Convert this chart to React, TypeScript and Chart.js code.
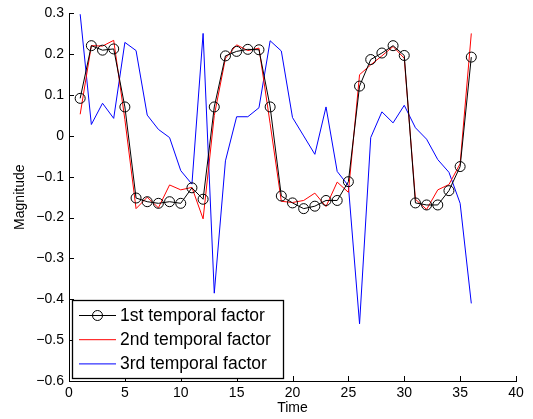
import React, { useEffect, useRef } from "react";
import { Chart, registerables } from "chart.js";

Chart.register(...registerables);

const timeSteps = [1, 2, 3, 4, 5, 6, 7, 8, 9, 10, 11, 12, 13, 14, 15, 16, 17, 18, 19, 20, 21, 22, 23, 24, 25, 26, 27, 28, 29, 30, 31, 32, 33, 34, 35, 36];

const factor1 = [0.092, 0.221, 0.210, 0.213, 0.071, -0.152, -0.161, -0.165, -0.161, -0.165, -0.127, -0.155, 0.071, 0.196, 0.207, 0.212, 0.211, 0.071, -0.147, -0.164, -0.178, -0.172, -0.158, -0.158, -0.112, 0.122, 0.187, 0.203, 0.221, 0.197, -0.164, -0.169, -0.169, -0.134, -0.075, 0.193];

const factor2 = [0.053, 0.221, 0.220, 0.234, 0.04, -0.178, -0.150, -0.176, -0.120, -0.132, -0.126, -0.203, 0.05, 0.190, 0.223, 0.209, 0.215, 0.03, -0.160, -0.163, -0.158, -0.140, -0.173, -0.113, -0.138, 0.150, 0.174, 0.196, 0.219, 0.190, -0.155, -0.180, -0.132, -0.119, -0.068, 0.251];

const factor3 = [0.298, 0.028, 0.080, 0.043, 0.229, 0.209, 0.051, 0.016, -0.004, -0.085, -0.118, 0.251, -0.385, -0.061, 0.047, 0.047, 0.069, 0.233, 0.208, 0.045, 0.000, -0.045, 0.071, -0.087, -0.122, -0.460, -0.004, 0.059, 0.032, 0.075, 0.020, -0.008, -0.058, -0.089, -0.165, -0.410];

const seriesLabels = ["1st temporal factor", "2nd temporal factor", "3rd temporal factor"];
const seriesColors = ["#000000", "#ff0000", "#0000ff"];

const FONT = "'Liberation Sans', Arial, Helvetica, sans-serif";

const fmt = (v: number) => {
  if (Math.abs(v) < 1e-9) return "0";
  const s = (Math.round(v * 10) / 10).toString();
  return s.replace("-", "\u2212");
};

const innerTicks = {
  id: "innerTicks",
  afterDatasetsDraw(chart: any) {
    const { ctx, chartArea, scales } = chart;
    ctx.save();
    ctx.strokeStyle = "#000";
    ctx.lineWidth = 1;
    const len = 5;
    ctx.beginPath();
    scales.x.ticks.forEach((t: any) => {
      const px = Math.round(scales.x.getPixelForValue(t.value)) + 0.5;
      ctx.moveTo(px, chartArea.bottom);
      ctx.lineTo(px, chartArea.bottom - len);
    });
    scales.y.ticks.forEach((t: any) => {
      const py = Math.round(scales.y.getPixelForValue(t.value)) + 0.5;
      ctx.moveTo(chartArea.left, py);
      ctx.lineTo(chartArea.left + len, py);
    });
    ctx.stroke();
    ctx.restore();
  },
};

const boxLegend = {
  id: "boxLegend",
  afterDraw(chart: any) {
    const { ctx, chartArea } = chart;
    const left = chartArea.left + 3;
    const bottom = chartArea.bottom - 3;
    const width = 211;
    const height = 78;
    const top = bottom - height;
    ctx.save();
    ctx.fillStyle = "#fff";
    ctx.fillRect(left, top, width, height);
    ctx.strokeStyle = "#000";
    ctx.lineWidth = 1.3;
    ctx.strokeRect(left + 0.5, top + 0.5, width, height);
    ctx.font = `17.5px ${FONT}`;
    ctx.textBaseline = "middle";
    ctx.textAlign = "left";
    chart.data.datasets.forEach((ds: any, i: number) => {
      const y = top + 15.5 + i * 24.2;
      ctx.strokeStyle = ds.borderColor;
      ctx.lineWidth = 1;
      ctx.beginPath();
      ctx.moveTo(left + 7, y);
      ctx.lineTo(left + 44, y);
      ctx.stroke();
      if (ds.pointRadius > 0) {
        ctx.beginPath();
        ctx.arc(left + 25.5, y, 5, 0, Math.PI * 2);
        ctx.stroke();
      }
      ctx.fillStyle = "#000";
      ctx.fillText(ds.label, left + 48, y + 0.5);
    });
    ctx.restore();
  },
};

export default function App() {
  const ref = useRef<HTMLCanvasElement>(null);

  useEffect(() => {
    if (!ref.current) return;
    const mk = (vals: number[]) => vals.map((v, i) => ({ x: timeSteps[i], y: v }));
    const chart = new Chart(ref.current, {
      type: "line",
      data: {
        datasets: [
          {
            label: seriesLabels[0],
            data: mk(factor1),
            borderColor: seriesColors[0],
            backgroundColor: "transparent",
            borderWidth: 1,
            pointRadius: 5,
            pointBorderWidth: 1,
            pointBorderColor: seriesColors[0],
            pointBackgroundColor: "transparent",
            tension: 0,
          },
          {
            label: seriesLabels[1],
            data: mk(factor2),
            borderColor: seriesColors[1],
            backgroundColor: "transparent",
            borderWidth: 1,
            pointRadius: 0,
            tension: 0,
          },
          {
            label: seriesLabels[2],
            data: mk(factor3),
            borderColor: seriesColors[2],
            backgroundColor: "transparent",
            borderWidth: 1,
            pointRadius: 0,
            tension: 0,
          },
        ],
      },
      options: {
        responsive: false,
        animation: false,
        layout: { padding: { top: 12, right: 17, left: 0, bottom: 0 } },
        plugins: { legend: { display: false }, tooltip: { enabled: false } },
        scales: {
          x: {
            type: "linear",
            min: 0,
            max: 40,
            afterFit: (s: any) => {
              s.height = 38;
            },
            grid: { display: false, drawTicks: false },
            border: { display: true, color: "#000", width: 1 },
            ticks: {
              stepSize: 5,
              padding: 4,
              color: "#000",
              font: { family: FONT, size: 14 },
              maxRotation: 0,
              callback: (v: any) => fmt(Number(v)),
            },
            title: {
              display: true,
              text: "Time",
              color: "#000",
              font: { family: FONT, size: 14 },
              padding: { top: 0, bottom: 2 },
            },
          },
          y: {
            type: "linear",
            min: -0.6,
            max: 0.3,
            afterFit: (s: any) => {
              s.width = 69;
            },
            grid: { display: false, drawTicks: false },
            border: { display: true, color: "#000", width: 1 },
            ticks: {
              stepSize: 0.1,
              padding: 5,
              color: "#000",
              font: { family: FONT, size: 14 },
              callback: (v: any) => fmt(Number(v)),
            },
            title: {
              display: true,
              text: "Magnitude",
              color: "#000",
              font: { family: FONT, size: 14 },
              padding: { top: 11.6, bottom: 0 },
            },
          },
        },
      },
      plugins: [innerTicks, boxLegend],
    });
    return () => chart.destroy();
  }, []);

  return (
    <div style={{ position: "absolute", left: 0, top: 0, width: 533, height: 419, background: "#fff" }}>
      <canvas ref={ref} width={533} height={419} style={{ display: "block" }} />
    </div>
  );
}
